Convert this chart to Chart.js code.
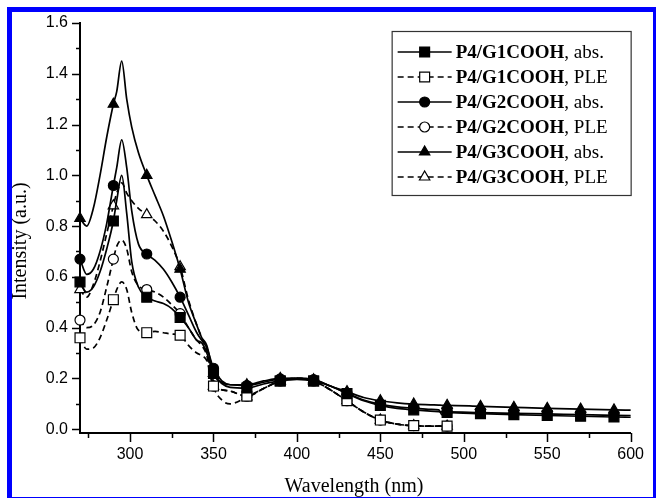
<!DOCTYPE html>
<html>
<head>
<meta charset="utf-8">
<script src="https://cdn.jsdelivr.net/npm/chart.js@4.4.0/dist/chart.umd.min.js"></script>
<style>
  html, body { margin: 0; padding: 0; background: #fff; overflow: hidden; }
  #wrap { position: relative; width: 656px; height: 498px; }
  #frame { position: absolute; left: 7px; top: 7px; width: 651px; height: 495px; box-sizing: border-box; border: 5px solid #0000ff; pointer-events: none; }
</style>
</head>
<body>
<div id="wrap">
  <canvas id="chartSpectra" width="656" height="498"></canvas>
  <div id="frame"></div>
</div>
<script>
// wavelength grid (nm), shared by all spectra
const wavelengths = [270, 274, 278, 282, 286, 290, 292, 295, 298, 301, 305, 310, 315, 320, 325, 330, 335, 340, 343, 346,
  350, 355, 360, 370, 380, 390, 400, 410, 420, 430, 440, 450, 460, 470, 480, 485, 487, 490, 510, 530, 550, 570, 590, 600];

// absorption spectra
const g1Abs = [0.58, 0.54, 0.56, 0.62, 0.71, 0.82, 0.90, 1.00, 0.85, 0.66, 0.56, 0.52, 0.505, 0.495, 0.475, 0.44, 0.40, 0.35, 0.34, 0.30,
  0.22, 0.18, 0.165, 0.162, 0.178, 0.19, 0.196, 0.19, 0.17, 0.14, 0.112, 0.094, 0.082, 0.076, 0.071, 0.069, 0.068, 0.066, 0.061, 0.057, 0.054, 0.051, 0.048, 0.047];
const g2Abs = [0.67, 0.61, 0.63, 0.70, 0.81, 0.96, 1.03, 1.14, 1.03, 0.86, 0.73, 0.69, 0.665, 0.63, 0.58, 0.52, 0.45, 0.38, 0.35, 0.32,
  0.24, 0.19, 0.175, 0.172, 0.185, 0.198, 0.20, 0.195, 0.17, 0.142, 0.115, 0.098, 0.088, 0.083, 0.078, 0.076, 0.056, 0.068, 0.065, 0.062, 0.06, 0.057, 0.055, 0.054];
const g3Abs = [0.83, 0.80, 0.87, 1.00, 1.15, 1.28, 1.33, 1.45, 1.30, 1.19, 1.09, 1.00, 0.92, 0.84, 0.74, 0.63, 0.50, 0.41, 0.36, 0.33,
  0.22, 0.185, 0.175, 0.175, 0.19, 0.20, 0.20, 0.195, 0.17, 0.148, 0.125, 0.112, 0.104, 0.099, 0.096, 0.095, 0.094, 0.094, 0.09, 0.086, 0.082, 0.079, 0.076, 0.075];

// excitation (PLE) spectra, 270-490 nm
const g1Ple = [0.36, 0.315, 0.32, 0.36, 0.43, 0.51, 0.55, 0.58, 0.55, 0.46, 0.39, 0.38, 0.385, 0.38, 0.375, 0.37, 0.33, 0.30, 0.29, 0.27,
  0.17, 0.155, 0.15, 0.13, 0.16, 0.19, 0.20, 0.19, 0.155, 0.112, 0.068, 0.036, 0.02, 0.014, 0.012, 0.012, 0.012, 0.012];
const g2Ple = [0.43, 0.40, 0.41, 0.46, 0.56, 0.67, 0.72, 0.745, 0.71, 0.62, 0.565, 0.55, 0.54, 0.52, 0.49, 0.455, 0.40, 0.35, 0.33, 0.29,
  0.17, 0.155, 0.15, 0.13, 0.16, 0.19, 0.20, 0.19, 0.155, 0.112, 0.068, 0.036, 0.02, 0.014, 0.012, 0.012, 0.012, 0.012];
const g3Ple = [0.55, 0.52, 0.57, 0.66, 0.77, 0.88, 0.93, 0.97, 0.93, 0.90, 0.87, 0.845, 0.82, 0.78, 0.72, 0.64, 0.51, 0.41, 0.36, 0.31,
  0.17, 0.115, 0.10, 0.127, 0.16, 0.19, 0.20, 0.19, 0.155, 0.112, 0.068, 0.036, 0.02, 0.014, 0.012, 0.012, 0.012, 0.012];

const legendNames = ["P4/G1COOH", "P4/G1COOH", "P4/G2COOH", "P4/G2COOH", "P4/G3COOH", "P4/G3COOH"];
const legendSuffixes = [", abs.", ", PLE", ", abs.", ", PLE", ", abs.", ", PLE"];

const xTickValues = [300, 350, 400, 450, 500, 550, 600];
const xMinorTicks = [275, 325, 375, 425, 475, 525, 575];
const yTickValues = [0, 0.2, 0.4, 0.6, 0.8, 1.0, 1.2, 1.4, 1.6];
const yMinorTicks = [0.1, 0.3, 0.5, 0.7, 0.9, 1.1, 1.3, 1.5];

const toPoints = (vals) => vals.map((v, i) => ({ x: wavelengths[i], y: v }));

function makeSet(vals, style, open, dashed, size) {
  return {
    data: toPoints(vals),
    borderColor: "#000",
    borderWidth: 1.7,
    borderDash: dashed ? [6, 4] : [],
    cubicInterpolationMode: "monotone",
    pointStyle: style,
    markerSize: size,
    pointRadius: (ctx) => ((ctx.raw && (ctx.raw.x - 270) % 20 === 0) ? size : 0),
    pointHoverRadius: 0,
    pointBackgroundColor: open ? "#fff" : "#000",
    pointBorderColor: "#000",
    pointBorderWidth: 1.2,
    clip: false,
  };
}

const decorPlugin = {
  id: "decor",
  afterDraw(chart) {
    const { ctx, chartArea, scales } = chart;
    const xs = scales.x, ys = scales.y;
    ctx.save();
    // tick marks, outward
    ctx.strokeStyle = "#000";
    ctx.lineWidth = 1.5;
    ctx.beginPath();
    xTickValues.forEach((v) => { const p = Math.round(xs.getPixelForValue(v)) + 0.5; ctx.moveTo(p, chartArea.bottom); ctx.lineTo(p, chartArea.bottom + 9); });
    xMinorTicks.forEach((v) => { const p = Math.round(xs.getPixelForValue(v)) + 0.5; ctx.moveTo(p, chartArea.bottom); ctx.lineTo(p, chartArea.bottom + 5); });
    yTickValues.forEach((v) => { const p = Math.round(ys.getPixelForValue(v)) + 0.5; ctx.moveTo(chartArea.left, p); ctx.lineTo(chartArea.left - 8, p); });
    yMinorTicks.forEach((v) => { const p = Math.round(ys.getPixelForValue(v)) + 0.5; ctx.moveTo(chartArea.left, p); ctx.lineTo(chartArea.left - 4, p); });
    ctx.stroke();

    // axis titles
    ctx.fillStyle = "#000";
    ctx.font = '20px "Liberation Serif"';
    ctx.textAlign = "center";
    ctx.textBaseline = "middle";
    ctx.fillText("Wavelength (nm)", chartArea.left + 274, chartArea.bottom + 54);
    ctx.save();
    ctx.translate(chartArea.left - 59, chartArea.top + 218);
    ctx.rotate(-Math.PI / 2);
    ctx.fillText("Intensity (a.u.)", 0, 0);
    ctx.restore();

    // legend box
    const w = 239, h = 164;
    const left = chartArea.right - w, top = chartArea.top + 8;
    ctx.fillStyle = "#fff";
    ctx.fillRect(left, top, w, h);
    ctx.strokeStyle = "#333";
    ctx.lineWidth = 1.2;
    ctx.strokeRect(left + 0.5, top + 0.5, w, h);
    chart.data.datasets.forEach((ds, i) => {
      const yy = top + 21 + i * 25;
      const x0 = left + 6, x1 = left + 60, xm = (x0 + x1) / 2;
      ctx.strokeStyle = "#000";
      ctx.lineWidth = 1.6;
      ctx.setLineDash(ds.borderDash);
      ctx.beginPath();
      ctx.moveTo(x0, yy);
      ctx.lineTo(x1, yy);
      ctx.stroke();
      ctx.setLineDash([]);
      ctx.fillStyle = ds.pointBackgroundColor;
      ctx.lineWidth = 1.2;
      Chart.helpers.drawPoint(ctx, { pointStyle: ds.pointStyle, radius: ds.markerSize, rotation: 0, borderWidth: 1.2 }, xm, yy);
      ctx.fillStyle = "#000";
      ctx.textAlign = "left";
      ctx.font = 'bold 19px "Liberation Serif"';
      ctx.fillText(legendNames[i], x1 + 4, yy + 1);
      const bw = ctx.measureText(legendNames[i]).width;
      ctx.font = '19px "Liberation Serif"';
      ctx.fillText(legendSuffixes[i], x1 + 4 + bw, yy + 1);
    });
    ctx.restore();
  },
};

const tickFont = { family: "Liberation Sans", size: 16 };

new Chart(document.getElementById("chartSpectra"), {
  type: "line",
  data: {
    datasets: [
      makeSet(g1Abs, "rect", false, false, 7),
      makeSet(g1Ple, "rect", true, true, 7),
      makeSet(g2Abs, "circle", false, false, 5),
      makeSet(g2Ple, "circle", true, true, 5),
      makeSet(g3Abs, "triangle", false, false, 6),
      makeSet(g3Ple, "triangle", true, true, 6),
    ],
  },
  options: {
    responsive: false,
    animation: false,
    devicePixelRatio: 1,
    layout: { padding: { top: 23, right: 14, left: 0, bottom: 0 } },
    plugins: { legend: { display: false }, tooltip: { enabled: false } },
    scales: {
      x: {
        type: "linear",
        min: 270,
        max: 600,
        afterBuildTicks: (s) => { s.ticks = xTickValues.map((v) => ({ value: v })); },
        afterFit: (s) => { s.height = 65; },
        grid: { display: false, drawTicks: false },
        border: { display: true, color: "#000", width: 2 },
        ticks: { color: "#000", font: tickFont, padding: 12, maxRotation: 0, autoSkip: false, callback: (v) => String(v) },
      },
      y: {
        min: -0.015,
        max: 1.6,
        afterBuildTicks: (s) => { s.ticks = yTickValues.map((v) => ({ value: v })); },
        afterFit: (s) => { s.width = 80; },
        grid: { display: false, drawTicks: false },
        border: { display: true, color: "#000", width: 2 },
        ticks: { color: "#000", font: tickFont, padding: 12, autoSkip: false, callback: (v) => v.toFixed(1) },
      },
    },
  },
  plugins: [decorPlugin],
});
</script>
</body>
</html>
